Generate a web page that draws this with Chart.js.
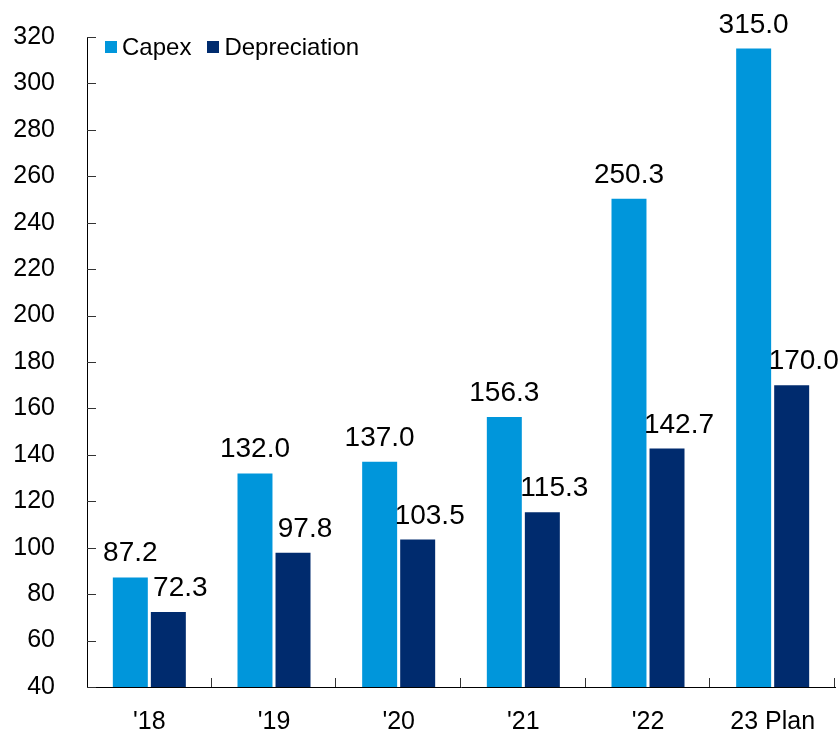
<!DOCTYPE html>
<html>
<head>
<meta charset="utf-8">
<script src="https://cdn.jsdelivr.net/npm/chart.js@4/dist/chart.umd.min.js"></script>
<style>
    html, body { margin: 0; padding: 0; background: #fff; }
    #wrap { position: relative; width: 840px; height: 732px; }
    #legend {
        position: absolute; left: 105px; top: 33px;
        display: flex; align-items: center;
        font-family: 'Liberation Sans', Arial, sans-serif; font-size: 24px; color: #000;
    }
    #legend span.item { display: flex; align-items: center; margin-right: 16px; }
    #legend span.box { width: 12px; height: 12px; margin-right: 5px; display: inline-block; }
</style>
</head>
<body>
<div id="wrap">
    <canvas id="chart" width="840" height="732"></canvas>
    <div id="legend"></div>
</div>
<script>
const categories = ["'18", "'19", "'20", "'21", "'22", '23 Plan'];
const capex = [87.2, 132.0, 137.0, 156.3, 250.3, 315.0];
const depreciation = [72.3, 97.8, 103.5, 115.3, 142.7, 170.0];
const yTicks = [40, 60, 80, 100, 120, 140, 160, 180, 200, 220, 240, 260, 280, 300, 320];

const FONT = "'Liberation Sans', Arial, sans-serif";

// inward tick marks on both axes
const innerTicks = {
    id: 'innerTicks',
    afterDraw(chart) {
        const { ctx, chartArea, scales } = chart;
        ctx.save();
        ctx.strokeStyle = '#333';
        ctx.lineWidth = 1;
        ctx.beginPath();
        yTicks.forEach((v) => {
            const y = Math.round(scales.y.getPixelForValue(v)) + 0.5;
            ctx.moveTo(chartArea.left, y);
            ctx.lineTo(chartArea.left + 9, y);
        });
        for (let i = 0; i < categories.length; i++) {
            const x = i < categories.length - 1
                ? (scales.x.getPixelForValue(i) + scales.x.getPixelForValue(i + 1)) / 2
                : chartArea.right;
            const px = Math.round(x) - 0.5;
            ctx.moveTo(px, chartArea.bottom);
            ctx.lineTo(px, chartArea.bottom - 9);
        }
        ctx.stroke();
        ctx.restore();
    },
};

// value labels above bars
const valueLabels = {
    id: 'valueLabels',
    afterDatasetsDraw(chart) {
        const { ctx } = chart;
        ctx.save();
        ctx.font = `28px ${FONT}`;
        ctx.fillStyle = '#000';
        ctx.textAlign = 'center';
        ctx.textBaseline = 'alphabetic';
        chart.data.datasets.forEach((ds, di) => {
            const meta = chart.getDatasetMeta(di);
            meta.data.forEach((bar, i) => {
                ctx.fillText(ds.data[i].toFixed(1), bar.x + (ds.labelShift || 0), bar.y - 16);
            });
        });
        ctx.restore();
    },
};

const chart = new Chart(document.getElementById('chart'), {
    type: 'bar',
    data: {
        labels: categories,
        datasets: [
            {
                label: 'Capex',
                data: capex,
                backgroundColor: '#0096DB',
                labelShift: 0,
            },
            {
                label: 'Depreciation',
                data: depreciation,
                backgroundColor: '#002B6E',
                labelShift: 12,
            },
        ],
    },
    options: {
        responsive: false,
        animation: false,
        categoryPercentage: 0.61,
        barPercentage: 0.92,
        layout: {
            padding: { top: 37, right: 5, left: 0, bottom: 0 },
        },
        plugins: {
            legend: { display: false },
            tooltip: { enabled: false },
        },
        scales: {
            x: {
                grid: { display: false, drawTicks: false },
                border: { color: '#000', width: 1 },
                ticks: {
                    color: '#000',
                    padding: 20,
                    font: { family: FONT, size: 25 },
                    maxRotation: 0,
                    autoSkip: false,
                },
                afterFit(scale) {
                    scale.height = 45;
                    scale.paddingLeft = 0;
                    scale.paddingRight = 0;
                },
            },
            y: {
                min: 40,
                max: 320,
                grid: { display: false, drawTicks: false },
                border: { color: '#000', width: 1 },
                ticks: {
                    stepSize: 20,
                    color: '#000',
                    padding: 32,
                    font: { family: FONT, size: 25 },
                },
                afterFit(scale) {
                    scale.width = 87;
                    scale.paddingTop = 0;
                    scale.paddingBottom = 0;
                },
            },
        },
    },
    plugins: [innerTicks, valueLabels],
});

// html legend
const legendEl = document.getElementById('legend');
chart.data.datasets.forEach((ds) => {
    const item = document.createElement('span');
    item.className = 'item';
    const box = document.createElement('span');
    box.className = 'box';
    box.style.background = ds.backgroundColor;
    item.appendChild(box);
    item.appendChild(document.createTextNode(ds.label));
    legendEl.appendChild(item);
});
</script>
</body>
</html>
